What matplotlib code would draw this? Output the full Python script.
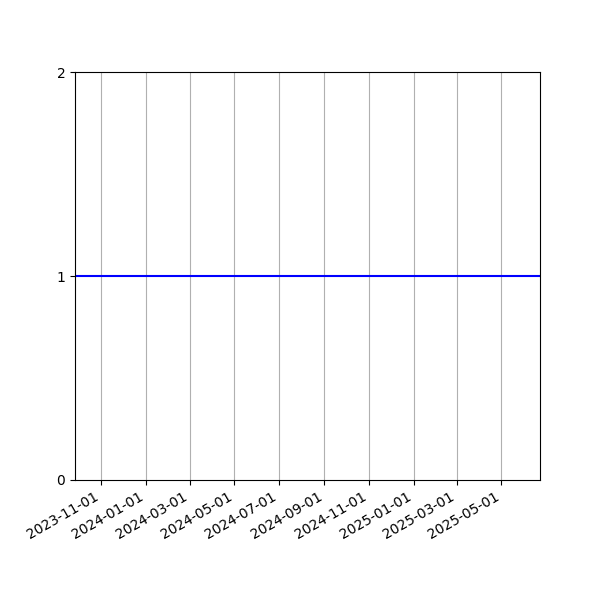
import matplotlib
matplotlib.use("Agg")
import matplotlib.pyplot as plt
import matplotlib.dates as mdates
import numpy as np

dates = np.array(["2023-09-26", "2025-06-23"], dtype="datetime64[D]")
values = [1, 1]
yticks = [0, 1, 2]

fig, ax = plt.subplots(figsize=(6, 6), dpi=100)
ax.plot(dates, values, color="blue", linewidth=1.5)
ax.set_xlim(dates[0], dates[-1])
ax.set_ylim(0, 2)
ax.set_yticks(yticks)
ax.xaxis.set_major_locator(mdates.MonthLocator(bymonth=[1, 3, 5, 7, 9, 11]))
ax.xaxis.set_major_formatter(mdates.DateFormatter("%Y-%m-%d"))
ax.grid(True, axis="x")
fig.autofmt_xdate()
fig.savefig("out.png", dpi=100)
